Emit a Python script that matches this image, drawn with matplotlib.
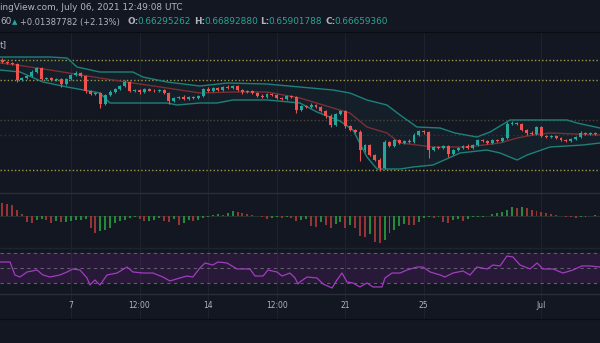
import numpy as np
import matplotlib.pyplot as plt

# ---- data (6h candles, time in days since Jun 7) ----
first_open = 0.7330
closes = [0.7312, 0.7303, 0.7294, 0.7150, 0.7168, 0.7186, 0.7222, 0.7258, 0.7159, 0.7168,
          0.7150, 0.7159, 0.7114, 0.7159, 0.7195, 0.7213, 0.7186, 0.7051, 0.7024, 0.7033,
          0.6934, 0.7015, 0.7042, 0.7069, 0.7096, 0.7132, 0.7051, 0.7060, 0.7042, 0.7069,
          0.7055, 0.7051, 0.7060, 0.7033, 0.6961, 0.6988, 0.6997, 0.6979, 0.6997, 0.6988,
          0.7006, 0.7069, 0.7051, 0.7078, 0.7060, 0.7087, 0.7078, 0.7096, 0.7060, 0.7042,
          0.7051, 0.7033, 0.7006, 0.6997, 0.7024, 0.7015, 0.6988, 0.6979, 0.7006, 0.6997,
          0.6880, 0.6916, 0.6907, 0.6925, 0.6907, 0.6871, 0.6826, 0.6745, 0.6844, 0.6871,
          0.6736, 0.6700, 0.6682, 0.6520, 0.6565, 0.6475, 0.6430, 0.6358, 0.6592, 0.6556,
          0.6610, 0.6583, 0.6601, 0.6592, 0.6655, 0.6691, 0.6682, 0.6520, 0.6547, 0.6538,
          0.6556, 0.6484, 0.6520, 0.6538, 0.6556, 0.6538, 0.6565, 0.6610, 0.6601, 0.6583,
          0.6610, 0.6601, 0.6628, 0.6754, 0.6763, 0.6754, 0.6700, 0.6673, 0.6664, 0.6727,
          0.6646, 0.6637, 0.6646, 0.6628, 0.6610, 0.6601, 0.6619, 0.6637, 0.6673, 0.6664,
          0.6673, 0.6664]
# wick lengths in 1e-4 price units
wick_hi = [15, 10, 12, 8, 12, 10, 14, 12, 10, 8, 12, 10, 8, 12, 10, 14, 10, 12, 8, 10,
           12, 10, 14, 12, 10, 18, 10, 8, 12, 10, 8, 10, 12, 10, 8, 12, 10, 14, 10, 8,
           12, 10, 14, 10, 12, 10, 15, 10, 8, 12, 10, 8, 10, 14, 12, 10, 8, 10, 12, 10,
           8, 12, 10, 14, 10, 8, 12, 18, 10, 12, 10, 8, 12, 20, 10, 12, 8, 20, 14, 12,
           10, 12, 10, 15, 18, 12, 10, 12, 8, 10, 12, 10, 8, 12, 10, 14, 10, 12, 10, 8,
           12, 10, 12, 20, 14, 10, 12, 10, 14, 12, 10, 8, 10, 12, 10, 8, 12, 10, 14, 10,
           12, 10]
wick_lo = [10, 12, 8, 15, 10, 12, 8, 10, 12, 10, 8, 10, 30, 10, 12, 8, 10, 14, 12, 10,
           40, 10, 8, 12, 10, 8, 12, 10, 14, 10, 8, 12, 10, 10, 30, 12, 10, 8, 12, 10,
           10, 12, 8, 10, 12, 10, 8, 12, 10, 14, 10, 8, 12, 10, 10, 12, 8, 10, 12, 10,
           25, 10, 8, 12, 10, 12, 14, 20, 10, 12, 20, 10, 12, 100, 14, 12, 10, 30, 12, 10,
           12, 10, 12, 8, 10, 12, 14, 70, 10, 12, 10, 30, 12, 10, 8, 12, 10, 12, 10, 8,
           10, 12, 10, 8, 12, 10, 12, 14, 10, 12, 8, 10, 12, 10, 8, 12, 10, 12, 10, 8,
           10, 12]

upper_t = [-3.62, -2.09, -1.07, -0.2, 0.31, 1.48, 3.16, 3.67, 4.9, 6.58, 7.96, 10.0, 11.68, 13.37,
           14.23, 15.1, 16.12, 16.79, 17.65, 18.83, 19.59, 20.71, 21.38, 22.4, 25.31, 25.82, 26.99]
upper = [0.7357, 0.7357, 0.7357, 0.7348, 0.7267, 0.7222, 0.7222, 0.7177, 0.7132, 0.7096, 0.7123,
         0.7114, 0.7087, 0.7060, 0.7033, 0.6970, 0.6925, 0.6835, 0.6727, 0.6718, 0.6673, 0.6637,
         0.6682, 0.6790, 0.6790, 0.6763, 0.6718]
lower_t = [-3.62, -2.6, -1.43, -0.2, 1.48, 1.99, 4.9, 5.41, 6.58, 7.45, 8.27, 10.0, 11.68, 12.55,
           13.72, 14.39, 15.1, 15.61, 16.79, 17.45, 18.47, 19.85, 21.22, 21.89, 22.76, 23.27, 24.44,
           26.12, 26.99]
lower = [0.7240, 0.7222, 0.7132, 0.7087, 0.7033, 0.6943, 0.6943, 0.6925, 0.6943, 0.6943, 0.6970,
         0.6970, 0.6943, 0.6862, 0.6781, 0.6700, 0.6457, 0.6349, 0.6349, 0.6367, 0.6385, 0.6493,
         0.6520, 0.6493, 0.6430, 0.6475, 0.6547, 0.6565, 0.6583]
mid_t = [-3.62, -2.76, -1.07, 1.48, 3.16, 4.9, 6.58, 8.27, 10.0, 11.68, 13.37, 14.23, 15.1, 16.12,
         16.79, 17.65, 18.47, 20.2, 21.89, 22.76, 23.57, 24.44, 26.99]
mid = [0.7303, 0.7285, 0.7240, 0.7168, 0.7123, 0.7078, 0.7033, 0.7042, 0.7042, 0.6988, 0.6898,
       0.6853, 0.6727, 0.6673, 0.6583, 0.6565, 0.6547, 0.6547, 0.6583, 0.6628, 0.6655, 0.6673, 0.6655]

levels = [0.7330, 0.7150, 0.6340]
faint_levels = [0.6790, 0.6655]

# MACD histogram, 1e-4 units
macd_hist = [13, 12, 11, 6, 2, -6, -7, -4, -3, -4, -7, -5, -6, -6, -5, -4, -4, -3, -12, -17,
             -15, -14, -12, -7, -5, -4, -2, -1, -3, -5, -4.5, -4, -2, -5, -6, -3, -9, -7, -4, -5,
             -4, -2, -1, 1, 2, 1, 3, 5, 4, 3, 2, 1, 0.5, -1, -3, -2, -1, -2, -1, -2,
             -5, -4, -3, -10, -11, -6, -9, -12, -8, -6, -12, -9, -12, -20, -21, -18, -26, -27, -24, -17,
             -14, -10, -8, -8.5, -9, -6, -2, -1, -2, -1, -6, -7, -4, -3, -5, -3, -1, -1, -0.5, 0.5,
             2, 3, 4, 6, 9, 8, 9, 8, 6, 5, 4, 3, 2, 1, 0.5, -0.5, -1, -2, -1, -0.5,
             0.5, 1]

rsi_t = [-3.62, -3.11, -2.86, -2.6, -2.24, -1.73, -1.43, -1.07, -0.56, -0.2,
         0.1, 0.46, 0.82, 0.97, 1.22, 1.48, 1.84, 2.35, 2.86, 3.16,
         3.67, 4.18, 4.69, 5.05, 5.56, 5.92, 6.22, 6.58, 6.84, 7.24,
         7.5, 7.96, 8.47, 9.13, 9.39, 9.8, 10.05, 10.51, 10.77, 11.17,
         11.43, 11.58, 11.68, 12.04, 12.55, 12.86, 13.32, 13.57, 13.83, 14.08,
         14.39, 14.74, 15.1, 15.41, 15.87, 16.02, 16.38, 16.79, 17.14, 17.65,
         17.96, 18.32, 18.83, 19.08, 19.49, 20.0, 20.36, 20.71, 21.22, 21.53,
         21.89, 22.24, 22.55, 22.91, 23.42, 23.78, 24.08, 24.59, 25.1, 25.61,
         26.07, 26.48, 26.99]
rsi = [58, 58, 40.7, 38, 44.7, 47.3, 40.7, 38, 40.7, 44.7,
       48.7, 47.3, 36.7, 27.3, 34, 27.3, 40.7, 43.3, 51.3, 44.7,
       43.3, 43.3, 38, 32.7, 36.7, 39.3, 38, 50, 56.7, 54,
       58, 56.7, 48.7, 48.7, 39.3, 39.3, 47.3, 44.7, 39.3, 43.3,
       36.7, 28.7, 31.3, 38, 36.7, 28.7, 23.3, 34, 43.3, 31.3,
       30, 24.7, 30, 24.7, 24.7, 36.7, 43.3, 43.3, 47.3, 51.3,
       51.3, 44.7, 40.7, 38, 43.3, 46, 40.7, 51.3, 48.7, 54,
       52.7, 66, 64.7, 54, 48.7, 56.7, 48.7, 48.7, 43.3, 47.3,
       52.7, 52.7, 51.3]

tick_pos = [0, 3.5, 7, 10.5, 14, 18, 24]
tick_labels = ['7', '12:00', '14', '12:00', '21', '25', 'Jul']

# ---- style ----
BG = '#131722'
GREEN = '#26a69a'
RED = '#ef5350'
TXT = '#b2b5be'
GRID = '#1e222d'
W, H = 600, 343
XLIM = (-3.62, 26.99)

fig = plt.figure(figsize=(6, 3.43), dpi=100, facecolor=BG)


def pane(top, bottom):
    a = fig.add_axes([0, 1 - bottom / H, 1, (bottom - top) / H])
    a.set_facecolor(BG)
    a.set_xlim(*XLIM)
    a.set_xticks([])
    a.set_yticks([])
    for s in a.spines.values():
        s.set_visible(False)
    for t in tick_pos:
        a.axvline(t, color=GRID, lw=0.8, zorder=0)
    return a


ax = pane(33, 193)
axm = pane(193, 248)
axr = pane(248, 294)
axt = pane(294, 319)

# ---- candles ----
closes = np.array(closes)
opens = np.concatenate([[first_open], closes[:-1]])
times = -3.5 + 0.25 * np.arange(len(closes))
highs = np.maximum(opens, closes) + np.array(wick_hi) * 1e-4
lows = np.minimum(opens, closes) - np.array(wick_lo) * 1e-4
ccol = [GREEN if c >= o else RED for o, c in zip(opens, closes)]

ax.fill(np.concatenate([upper_t, lower_t[::-1]]), np.concatenate([upper, lower[::-1]]),
        color=GREEN, alpha=0.06, lw=0, zorder=1)
ax.plot(upper_t, upper, color='#1d8179', lw=1, zorder=2)
ax.plot(lower_t, lower, color='#1d8179', lw=1, zorder=2)
ax.plot(mid_t, mid, color='#7c2e33', lw=1, zorder=2)

for lv in levels:
    ax.axhline(lv, color='#9d9a4a', lw=1, ls=(0, (1, 1.6)), zorder=1)
ax.axhline(faint_levels[0], color='#4a4a32', lw=1, ls=(0, (1, 1.6)), zorder=1)
ax.axhline(faint_levels[1], color='#33363f', lw=1, ls=(0, (1, 2)), zorder=1)

ax.vlines(times, lows, highs, colors=ccol, lw=0.8, zorder=3)
ax.bar(times, closes - opens, bottom=opens, width=0.15, color=ccol, lw=0, zorder=4)
ax.set_ylim(0.6133, 0.7573)

# ---- MACD histogram ----
hist = np.array(macd_hist)
prev = np.concatenate([[hist[0] + 1], hist[:-1]])
hcol = ['#26883a' if h >= p else '#963436' for h, p in zip(hist, prev)]
axm.axhline(0, color='#25302f', lw=0.8, zorder=1)
axm.bar(times, hist, width=0.1, color=hcol, lw=0, zorder=3)
axm.set_ylim(-32, 23)

# ---- RSI ----
axr.axhspan(30, 70, color='#9c27b0', alpha=0.15, lw=0, zorder=1)
for lv in (70, 50, 30):
    axr.axhline(lv, color='#5d606b', lw=0.8, ls=(0, (3, 3)), zorder=2)
axr.plot(rsi_t, rsi, color='#a23cc0', lw=0.9, zorder=3)
axr.set_ylim(15.3, 76.7)

# ---- time axis ----
axt.set_ylim(0, 1)
for t, lab in zip(tick_pos, tick_labels):
    axt.text(t, 0.52, lab, color=TXT, fontsize=5.5, ha='center', va='center')

# ---- separators ----
for y, c in [(32, '#0b0d13'), (193, '#2a2e39'), (248, '#1f232e'), (294, '#2a2e39'), (319, '#0b0d13')]:
    fig.add_artist(plt.Line2D([0, 1], [1 - y / H, 1 - y / H], color=c, lw=1))

# ---- header text ----
def ftext(x, y, s, color=TXT, weight='normal', size=6.4):
    fig.text(x / W, 1 - y / H, s, color=color, fontsize=size, weight=weight, va='center', ha='left')


ftext(0, 8, 'ingView.com, July 06, 2021 12:49:08 UTC')
ftext(0, 22, '60')
ftext(12, 22, '▲', color=GREEN, size=5)
ftext(20, 22, '+0.01387782 (+2.13%)', size=6.0)
ftext(127, 22, 'O:', weight='bold')
ftext(137, 22, '0.66295262', color=GREEN)
ftext(194, 22, 'H:', weight='bold')
ftext(204, 22, '0.66892880', color=GREEN)
ftext(260, 22, 'L:', weight='bold')
ftext(268, 22, '0.65901788', color=GREEN)
ftext(325, 22, 'C:', weight='bold')
ftext(334, 22, '0.66659360', color=GREEN)
ftext(0, 45, 't]')

fig.savefig('out.png', dpi=100, facecolor=BG)
